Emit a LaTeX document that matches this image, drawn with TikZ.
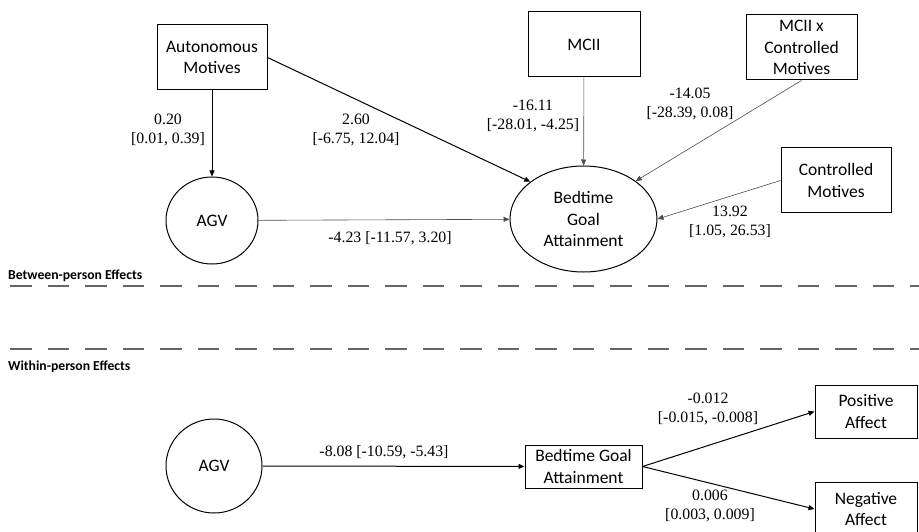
\documentclass[tikz,border=0pt]{standalone}
\usepackage{fontspec}
\setmainfont{Liberation Serif}
\newfontfamily\labelsans{Carlito}
\usepackage{tikz}
\usetikzlibrary{arrows.meta,shapes.geometric}

\begin{document}
\begin{tikzpicture}[x=1pt, y=-1pt,
  box/.style={draw, line width=1pt, align=center, inner sep=1pt,
              font=\labelsans\fontsize{17.5}{21.5}\selectfont,
              minimum width=110pt, minimum height=65pt},
  latent/.style={box, ellipse, inner sep=0pt},
  coef/.style={align=center, inner sep=0pt, font=\fontsize{15.8}{19}\selectfont},
  arr/.style={-{Triangle[length=6pt,width=5pt]}, line width=1pt},
  faint/.style={arr, line width=0.6pt, black!70},
  divider/.style={dash pattern=on 21.7pt off 15.8pt, line width=1.5pt, black!60},
  partlabel/.style={anchor=west, inner sep=0pt,
                    font=\labelsans\bfseries\fontsize{13.7}{16}\selectfont},
]
  \useasboundingbox (0,0) rectangle (919,532);

  % between-person part
  \node[box]                           (auto)  at (212,57.5)   {Autonomous\\Motives};
  \node[box, minimum width=112pt]      (mcii)  at (584,44.5)   {MCII};
  \node[box, minimum width=111pt]      (mciix) at (801.5,47.5) {MCII x\\Controlled\\Motives};
  \node[box]                           (ctrl)  at (836,180.5)  {Controlled\\Motives};
  \node[latent, minimum width=92pt, minimum height=87pt]   (agv) at (212,220.5) {AGV};
  \node[latent, minimum width=147pt, minimum height=106pt] (bga) at (583.5,219) {Bedtime\\Goal\\Attainment};

  \node[coef] (cautoagv)  at (168,130)   {0.20\\{[0.01, 0.39]}};
  \node[coef] (cautobga)  at (356,130)   {2.60\\{[-6.75, 12.04]}};
  \node[coef] (cagvbga)   at (390,238)   {-4.23 [-11.57, 3.20]};
  \node[coef] (cmciibga)  at (533,115.5) {-16.11\\{[-28.01, -4.25]}};
  \node[coef] (cmciixbga) at (690,103.5) {-14.05\\{[-28.39, 0.08]}};
  \node[coef] (cctrlbga)  at (730,222)   {13.92\\{[1.05, 26.53]}};

  \draw[arr]   (auto) -- (agv);
  \draw[arr]   (auto.east) -- (bga.145);
  \draw[faint] (agv) -- (bga);
  \draw[faint] (mcii) -- (bga);
  \draw[faint] (mciix.south) -- (bga.36);
  \draw[faint] (ctrl.west) -- (bga.east);

  % split between the two levels
  \node[partlabel] (between) at (8,276) {Between-person Effects};
  \node[partlabel] (within)  at (8,367) {Within-person Effects};
  \draw[divider] (10,286) -- (919,286);
  \draw[divider] (10,349) -- (919,349);

  % within-person part
  \node[latent, minimum width=96pt, minimum height=94pt]  (agvw) at (214,466)   {AGV};
  \node[box, minimum width=117pt, minimum height=43pt]    (bgaw) at (583.5,466.5) {Bedtime Goal\\Attainment};
  \node[box, minimum width=102pt, minimum height=53pt]    (pos)  at (866,411.5) {Positive\\Affect};
  \node[box, minimum width=102pt, minimum height=53pt]    (neg)  at (866,509)   {Negative\\Affect};

  \node[coef] (cagvw) at (384,452) {-8.08 [-10.59, -5.43]};
  \node[coef] (cpos)  at (708,409) {-0.012\\{[-0.015, -0.008]}};
  \node[coef] (cneg)  at (710,506) {0.006\\{[0.003, 0.009]}};

  \draw[arr] (agvw) -- (bgaw);
  \draw[arr] (bgaw.east) -- (pos.west);
  \draw[arr] (bgaw.east) -- (neg.west);
\end{tikzpicture}
\end{document}
